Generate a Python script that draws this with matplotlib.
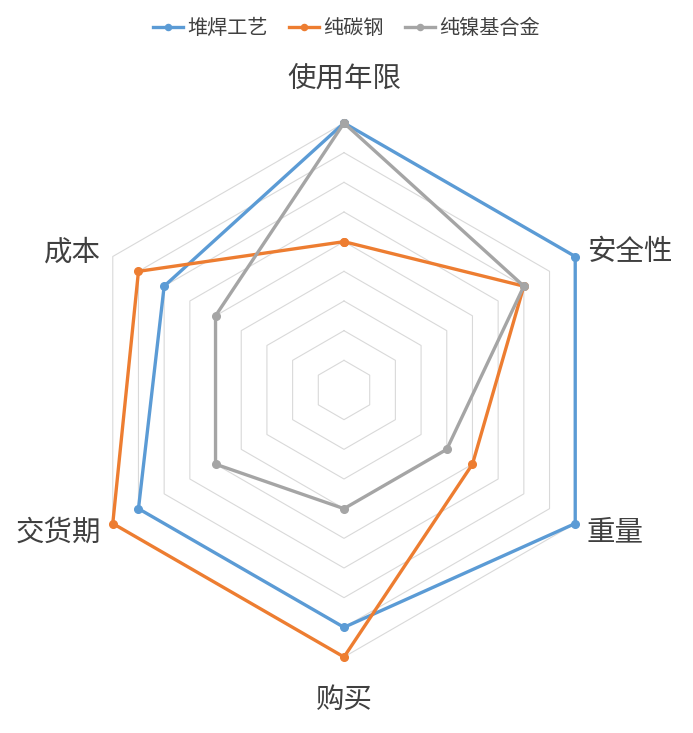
import numpy as np
import matplotlib
matplotlib.use("Agg")
import matplotlib.pyplot as plt

plt.rcParams['font.family'] = ['Noto Sans CJK SC', 'DejaVu Sans']

# ── Daten ────────────────────────────────────────────────
kategorien = ["使用年限", "安全性", "重量", "购买", "交货期", "成本"]
serien = ["堆焊工艺", "纯碳钢", "纯镍基合金"]
werte_duihan = [9, 9, 9, 8, 8, 7]
werte_tangang = [5, 7, 5, 9, 9, 8]
werte_nieji = [9, 7, 4, 4, 5, 5]
farben = ["#5B9BD5", "#ED7D31", "#A5A5A5"]
ring_max = 9

# ── Geometrie ────────────────────────────────────────────
n = len(kategorien)
winkel = np.pi / 2 - np.arange(n) * 2 * np.pi / n   # im Uhrzeigersinn ab oben


def zu_xy(werte):
    w = np.asarray(werte, dtype=float)
    x = w * np.cos(winkel)
    y = w * np.sin(winkel)
    return np.append(x, x[0]), np.append(y, y[0])


fig = plt.figure(figsize=(6.93, 7.33), dpi=100)
ax = fig.add_axes([0, 0, 1, 1])
ax.set_axis_off()
px = 267 / ring_max                         # Pixel pro Einheit
ax.set_xlim(-344 / px, 349 / px)
ax.set_ylim(-343 / px, 390 / px)

# Gitterringe (Sechsecke)
for r in range(1, ring_max + 1):
    gx, gy = zu_xy([r] * n)
    ax.plot(gx, gy, color="#D9D9D9", lw=0.8, zorder=1)

# Datenreihen
for name, werte, farbe in zip(serien, [werte_duihan, werte_tangang, werte_nieji], farben):
    sx, sy = zu_xy(werte)
    ax.plot(sx, sy, color=farbe, lw=2.4, marker="o", markersize=5.5,
            label=name, zorder=3, solid_joinstyle="round")

# Achsenbeschriftungen
for kat, w in zip(kategorien, winkel):
    c, s = np.cos(w), np.sin(w)
    if abs(c) < 1e-6:
        r = 10.5 if s > 0 else 10.45
        ax.text(r * c, r * s, kat, ha="center", va="center",
                fontsize=20.5, color="#404040")
    else:
        r = 9.45
        ax.text(r * c, r * s - 0.08, kat,
                ha="left" if c > 0 else "right", va="center",
                fontsize=20.5, color="#404040")

fig.legend(loc="upper center", bbox_to_anchor=(0.5, 1.0), ncol=3, frameon=False,
           fontsize=14.5, handlelength=1.5, handletextpad=0.2, columnspacing=1.05,
           markerscale=0.8, labelcolor="#404040")

fig.savefig("out.png", dpi=100)
